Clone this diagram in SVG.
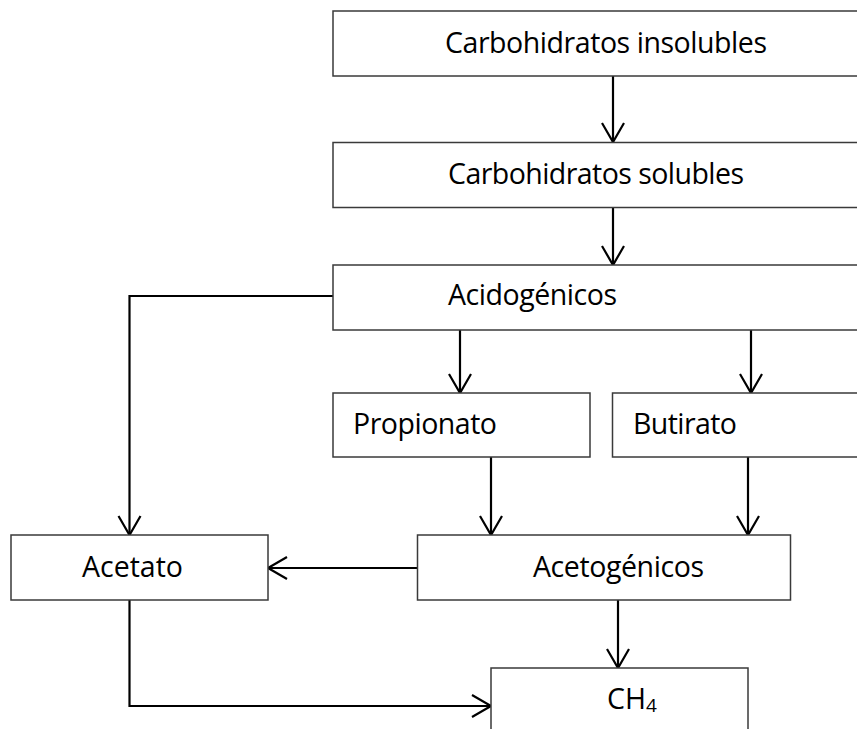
<svg xmlns="http://www.w3.org/2000/svg" width="857" height="729" viewBox="0 0 857 729">
  <style>
    .box { fill: #ffffff; stroke: #3a3a3a; stroke-width: 1.5; }
    .lbl { font-family: "Open Sans", "Liberation Sans", sans-serif; font-size: 28.5px; fill: #000000; }
    .sub { font-family: "Open Sans", "Liberation Sans", sans-serif; font-size: 19px; fill: #000000; }
    .edge { fill: none; stroke: #000000; stroke-width: 2.2; }
  </style>
  <defs>
    <marker id="open-arrow" markerUnits="userSpaceOnUse" markerWidth="24" markerHeight="28" viewBox="-21 -13 24 26" refX="0" refY="0" orient="auto">
      <path d="M-19,-11 L0,0 L-19,11" fill="none" stroke="#000000" stroke-width="2.2"/>
    </marker>
  </defs>
  <rect x="0" y="0" width="857" height="729" fill="#ffffff"/>

  <g id="connectors">
    <path class="edge" d="M613,76 V142" marker-end="url(#open-arrow)"/>
    <path class="edge" d="M613,208 V265" marker-end="url(#open-arrow)"/>
    <path class="edge" d="M333,296 H129.5 V535" marker-end="url(#open-arrow)"/>
    <path class="edge" d="M460,330 V393" marker-end="url(#open-arrow)"/>
    <path class="edge" d="M751,330 V393" marker-end="url(#open-arrow)"/>
    <path class="edge" d="M491,457 V535" marker-end="url(#open-arrow)"/>
    <path class="edge" d="M748,457 V535" marker-end="url(#open-arrow)"/>
    <path class="edge" d="M417,568 H268" marker-end="url(#open-arrow)"/>
    <path class="edge" d="M618,600 V668" marker-end="url(#open-arrow)"/>
    <path class="edge" d="M129.5,600 V706 H491" marker-end="url(#open-arrow)"/>
  </g>

  <g id="carbohidratos-insolubles">
    <rect class="box" x="333" y="11" width="540" height="65"/>
    <text class="lbl" x="445" y="53" textLength="322">Carbohidratos insolubles</text>
  </g>
  <g id="carbohidratos-solubles">
    <rect class="box" x="333" y="142.5" width="540" height="65"/>
    <text class="lbl" x="448" y="183.5" textLength="296">Carbohidratos solubles</text>
  </g>
  <g id="acidogenicos">
    <rect class="box" x="333" y="265" width="540" height="65"/>
    <text class="lbl" x="448" y="305" textLength="169">Acidogénicos</text>
  </g>
  <g id="propionato">
    <rect class="box" x="333" y="393" width="257" height="64"/>
    <text class="lbl" x="353" y="434" textLength="144">Propionato</text>
  </g>
  <g id="butirato">
    <rect class="box" x="612.5" y="393" width="260" height="64"/>
    <text class="lbl" x="633" y="434" textLength="104">Butirato</text>
  </g>
  <g id="acetato">
    <rect class="box" x="11" y="535" width="257" height="65"/>
    <text class="lbl" x="82" y="577" textLength="101">Acetato</text>
  </g>
  <g id="acetogenicos">
    <rect class="box" x="417.5" y="535" width="373" height="65"/>
    <text class="lbl" x="533" y="577" textLength="171">Acetogénicos</text>
  </g>
  <g id="ch4">
    <rect class="box" x="491" y="668" width="257" height="80"/>
    <text class="lbl" x="607" y="709">CH<tspan class="sub" dy="3">4</tspan></text>
  </g>
</svg>
